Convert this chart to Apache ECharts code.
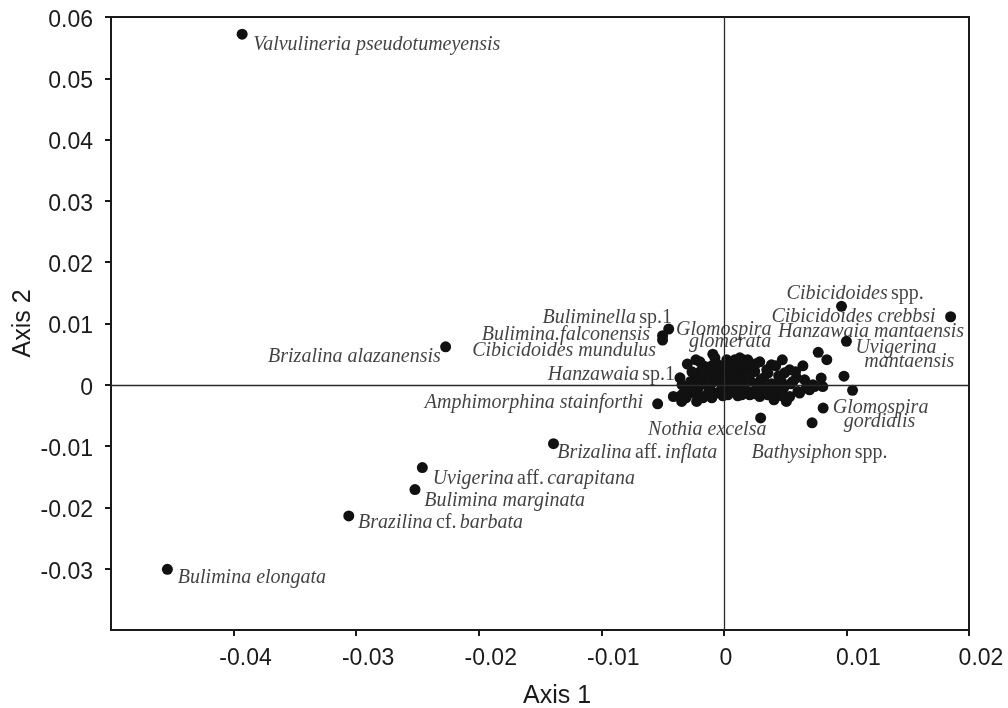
<!DOCTYPE html>
<html>
<head>
<meta charset="utf-8">
<script src="https://cdn.jsdelivr.net/npm/echarts@6/dist/echarts.min.js"></script>
<style>
  html, body { margin: 0; padding: 0; background: #fff; }
  #chart { width: 1008px; height: 708px; }
</style>
</head>
<body>
<div id="chart"></div>
<script>
// Tick values shown on each ordination axis
const axis1Ticks = [-0.04, -0.03, -0.02, -0.01, 0, 0.01, 0.02];
const axis2Ticks = [-0.03, -0.02, -0.01, 0, 0.01, 0.02, 0.03, 0.04, 0.05, 0.06];

// Species scores (Axis 1, Axis 2) for the taxa away from the centre
const namedScores = [
  [-0.0393, 0.0572], [-0.0454, -0.0301], [-0.0227, 0.0062], [-0.0045, 0.0091],
  [-0.0050, 0.0080], [-0.0050, 0.0073], [-0.0246, -0.0135], [-0.0252, -0.0171],
  [-0.0306, -0.0214], [-0.0139, -0.0096], [-0.0054, -0.0031], [0.0030, -0.0054],
  [0.0096, 0.0128], [0.0185, 0.0111], [0.0100, 0.0071], [0.0081, -0.0038],
  [0.0072, -0.0062], [0.0105, -0.0009], [0.0098, 0.0014], [0.0077, 0.0053],
  [0.0084, 0.0041], [-0.0009, 0.0050]
];

// Species scores for the dense group around the origin
const clusterScores = [
  [0.00477, 0.00408], [0.00645, 0.00310], [0.00794, 0.00109], [0.00659, 0.00082],
  [0.00563, 0.00054], [0.00469, 0.00054], [0.00388, 0.00326], [0.00360, 0.00191],
  [0.00252, 0.00217], [0.00157, 0.00408], [0.00089, 0.00408], [0.00293, -0.00191],
  [0.00409, -0.00245], [0.00510, -0.00272], [0.00537, -0.00191], [0.00604, -0.00109],
  [0.00672, -0.00054], [0.00740, -0.00028], [0.00807, -0.00028], [0.00469, -0.00082],
  [0.00428, -0.00028], [0.00171, -0.00082], [0.00089, -0.00082], [-0.00298, 0.00338],
  [-0.00228, 0.00408], [-0.00154, 0.00299], [-0.00046, 0.00326], [0.00035, 0.00354],
  [0.00089, 0.00299], [-0.00412, -0.00191], [-0.00344, -0.00272], [-0.00276, -0.00135],
  [-0.00209, -0.00054], [-0.00141, 0.00000], [-0.00168, 0.00135], [-0.00100, 0.00163],
  [-0.00033, 0.00082], [0.00022, -0.00028], [-0.00059, -0.00135], [-0.00141, -0.00163],
  [-0.00222, -0.00272], [0.00076, -0.00082], [-0.00195, 0.00212], [-0.00114, 0.00245],
  [-0.00073, 0.00440], [-0.00016, 0.00212], [0.00049, 0.00147], [0.00114, 0.00212],
  [0.00171, 0.00082], [0.00211, 0.00277], [0.00268, 0.00016], [0.00325, 0.00114],
  [0.00146, -0.00163], [0.00228, -0.00114], [0.00333, -0.00049], [0.00033, -0.00163],
  [0.00114, 0.00016], [-0.00016, -0.00049], [0.00195, 0.00408], [0.00293, 0.00375],
  [0.00537, 0.00245], [0.00593, 0.00114], [0.00496, 0.00196], [-0.00098, 0.00033],
  [-0.00236, 0.00082], [-0.00341, 0.00000], [0.00171, 0.00380], [0.00699, -0.00082],
  [0.00618, -0.00135], [0.00523, -0.00217], [0.00198, -0.00109], [-0.00276, -0.00082],
  [-0.00344, -0.00163], [-0.00271, 0.00054], [-0.00141, 0.00082], [0.00022, 0.00163],
  [0.00130, 0.00135], [0.00211, 0.00082], [0.00455, 0.00082], [0.00398, -0.00028],
  [0.00726, 0.00000], [-0.00260, 0.00212], [-0.00203, 0.00082], [-0.00154, 0.00212],
  [-0.00098, 0.00310], [-0.00049, 0.00179], [0.00000, 0.00277], [0.00057, 0.00245],
  [0.00098, 0.00114], [0.00154, 0.00277], [0.00203, 0.00179], [0.00260, 0.00343],
  [0.00301, 0.00082], [0.00350, 0.00245], [0.00390, 0.00016], [0.00447, 0.00147],
  [0.00488, -0.00049], [0.00545, 0.00016], [-0.00220, -0.00131], [-0.00171, -0.00212],
  [-0.00114, -0.00065], [-0.00065, 0.00065], [-0.00008, -0.00179], [0.00041, 0.00049],
  [0.00114, -0.00179], [0.00138, -0.00033], [0.00211, -0.00163], [0.00244, -0.00147],
  [0.00293, -0.00033], [0.00358, -0.00163], [0.00407, -0.00114], [-0.00309, -0.00082],
  [-0.00358, 0.00114], [-0.00195, 0.00375], [0.00024, 0.00408], [0.00130, 0.00440],
  [0.00423, 0.00310], [0.00585, 0.00212], [-0.00309, -0.00212], [-0.00098, -0.00212],
  [0.00472, -0.00179]
];

// Taxon names: anchor (Axis 1, Axis 2), rich-text name, side of the anchor the text runs to
const taxonLabels = [
  [-0.03840, 0.05546, '{i|Valvulineria pseudotumeyensis}', 'right'],
  [-0.04455, -0.03148, '{i|Bulimina elongata}', 'right'],
  [-0.02309, 0.00457, '{i|Brizalina alazanensis}', 'left'],
  [-0.00423, 0.01093, '{i|Buliminella} {n|sp.1}', 'left'],
  [-0.00602, 0.00816, '{i|Bulimina.falconensis}', 'left'],
  [-0.00553, 0.00555, '{i|Cibicidoides mundulus}', 'left'],
  [-0.00390, 0.00897, '{i|Glomospira}', 'right'],
  [-0.00285, 0.00701, '{i|glomerata}', 'right'],
  [-0.00398, 0.00163, '{i|Hanzawaia} {n|sp.1}', 'left'],
  [-0.00659, -0.00294, '{i|Amphimorphina stainforthi}', 'left'],
  [-0.00618, -0.00734, '{i|Nothia excelsa}', 'right'],
  [0.00512, 0.01484, '{i|Cibicidoides} {n|spp.}', 'right'],
  [0.00388, 0.01109, '{i|Cibicidoides crebbsi}', 'right'],
  [0.00441, 0.00870, '{i|Hanzawaia mantaensis}', 'right'],
  [0.01073, 0.00599, '{i|Uvigerina}', 'right'],
  [0.01146, 0.00380, '{i|mantaensis}', 'right'],
  [0.00889, -0.00380, '{i|Glomospira}', 'right'],
  [0.00978, -0.00599, '{i|gordialis}', 'right'],
  [0.00225, -0.01104, '{i|Bathysiphon} {n|spp.}', 'right'],
  [-0.01360, -0.01114, '{i|Brizalina} {n|aff.} {i|inflata}', 'right'],
  [-0.02376, -0.01538, '{i|Uvigerina} {n|aff.} {i|carapitana}', 'right'],
  [-0.02445, -0.01887, '{i|Bulimina marginata}', 'right'],
  [-0.02984, -0.02251, '{i|Brazilina} {n|cf.} {i|barbata}', 'right']
];

const ink = '#1a1a1a';
const textInk = '#111';
const serif = '"Liberation Serif", "DejaVu Serif", serif';
const sans = '"Liberation Sans", Arial, sans-serif';

const fmt = v => String(+(+v).toFixed(2));

const chart = echarts.init(document.getElementById('chart'), null, { renderer: 'canvas' });

chart.setOption({
  animation: false,
  backgroundColor: '#fff',
  grid: {
    left: 111, right: 39, top: 17, bottom: 78,
    show: true, borderColor: ink, borderWidth: 2,
    outerBoundsMode: 'none'
  },
  xAxis: {
    type: 'value',
    min: -0.05, max: 0.02, interval: 0.01,
    name: 'Axis 1',
    nameLocation: 'middle',
    nameGap: 54,
    nameMoveOverlap: false,
    nameTextStyle: { fontFamily: sans, fontSize: 25, color: ink, padding: [0, 0, 0, 34] },
    axisLine: { show: true, onZero: false, lineStyle: { color: ink, width: 2 } },
    axisTick: { show: true, inside: false, length: 6, customValues: axis1Ticks,
                lineStyle: { color: ink, width: 2 } },
    axisLabel: {
      show: true, margin: 17, customValues: axis1Ticks,
      formatter: v => (Math.abs(v) < 1e-9 ? '{z|0}' : '{d|' + fmt(v) + '}'),
      rich: {
        d: { fontFamily: sans, fontSize: 23, color: ink, padding: [0, 0, 0, 24] },
        z: { fontFamily: sans, fontSize: 23, color: ink, padding: [0, 0, 0, 4] }
      }
    },
    splitLine: { show: false }
  },
  yAxis: {
    type: 'value',
    min: -0.04, max: 0.06, interval: 0.01,
    name: 'Axis 2',
    nameLocation: 'middle',
    nameGap: 75,
    nameRotate: 90,
    nameMoveOverlap: false,
    nameTextStyle: { fontFamily: sans, fontSize: 25, color: ink },
    axisLine: { show: true, onZero: false, lineStyle: { color: ink, width: 2 } },
    axisTick: { show: true, inside: false, length: 6, customValues: axis2Ticks,
                lineStyle: { color: ink, width: 2 } },
    axisLabel: {
      show: true, margin: 18, customValues: axis2Ticks,
      formatter: v => '{d|' + fmt(v) + '}',
      rich: { d: { fontFamily: sans, fontSize: 23, color: ink, padding: [7, 0, 0, 0] } }
    },
    splitLine: { show: false }
  },
  series: [
    {
      // zero reference lines through the origin
      type: 'scatter',
      data: [],
      z: 1,
      markLine: {
        silent: true,
        symbol: 'none',
        label: { show: false },
        lineStyle: { color: '#2a2a2a', width: 1.3, type: 'solid' },
        data: [{ xAxis: 0 }, { yAxis: 0 }]
      }
    },
    {
      type: 'scatter',
      z: 3,
      symbol: 'circle',
      symbolSize: 11,
      itemStyle: { color: '#111', opacity: 1 },
      data: namedScores.concat(clusterScores)
    },
    {
      type: 'scatter',
      z: 4,
      symbolSize: 0,
      silent: true,
      data: taxonLabels.map(t => ({
        value: [t[0], t[1]],
        text: t[2],
        label: { position: t[3], distance: 0 }
      })),
      label: {
        show: true,
        formatter: p => p.data.text,
        rich: {
          i: { fontFamily: serif, fontStyle: 'italic', fontSize: 20, color: textInk },
          n: { fontFamily: serif, fontStyle: 'normal', fontSize: 20, color: textInk }
        }
      }
    }
  ]
});
</script>
</body>
</html>
